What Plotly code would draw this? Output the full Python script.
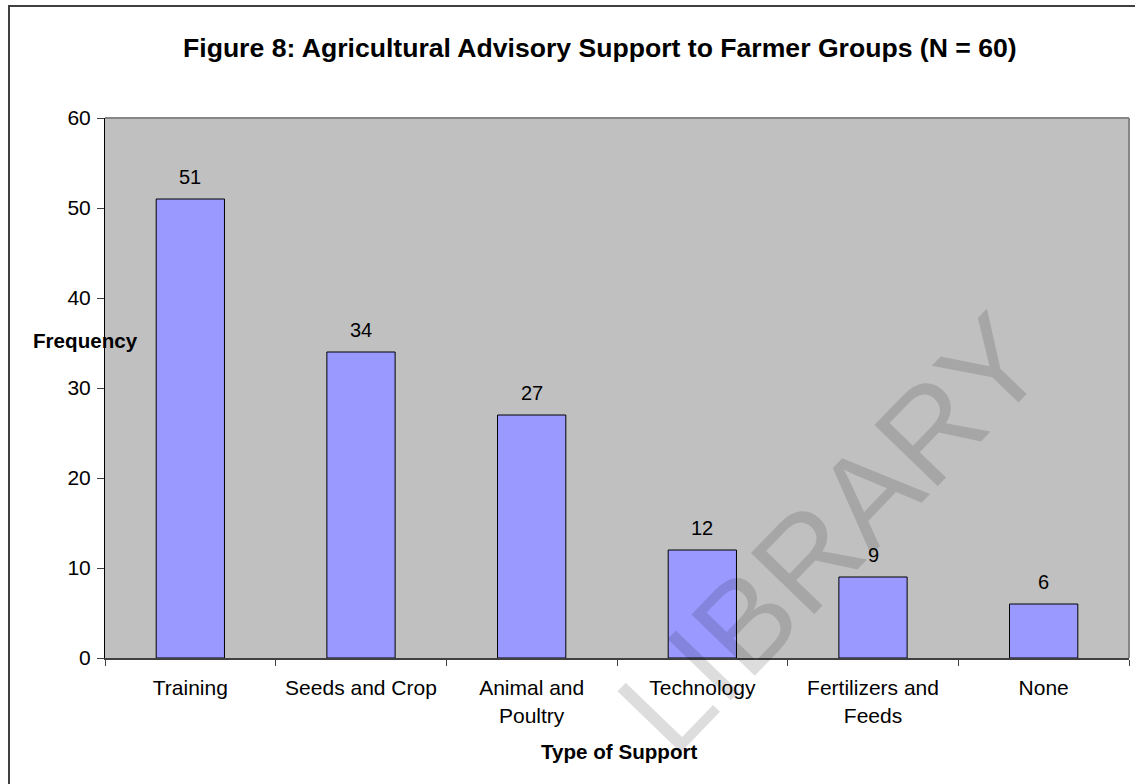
import plotly.graph_objects as go

# Agricultural advisory support received by farmer groups
categories = ["Training", "Seeds and Crop", "Animal and<br>Poultry",
              "Technology", "Fertilizers and<br>Feeds", "None"]
frequency = [51, 34, 27, 12, 9, 6]
y_ticks = [0, 10, 20, 30, 40, 50, 60]

W, H = 1135, 784
PL, PR, PT, PB = 105, 1129, 118, 658  # plot area in pixels

def px_x(x):
    return (x - PL) / (PR - PL)

def px_y(y):
    return (PB - y) / (PB - PT)

FONT = "Liberation Sans, Arial, sans-serif"

fig = go.Figure()
fig.add_trace(go.Bar(
    x=categories, y=frequency, width=0.4,
    marker=dict(color="#9999FF", line=dict(color="#000000", width=1)),
    hoverinfo="x+y", showlegend=False,
))

annotations = []
# value labels above bars
for c, v in zip(categories, frequency):
    annotations.append(dict(
        x=c, y=v, xref="x", yref="y", text=str(v), showarrow=False,
        yanchor="bottom", yshift=9, font=dict(family=FONT, size=20, color="#000"),
    ))

annotations += [
    dict(text="<b>Figure 8: Agricultural Advisory Support to Farmer Groups (N = 60)</b>",
         x=px_x(600), y=px_y(48), xref="paper", yref="paper", showarrow=False,
         xanchor="center", yanchor="middle",
         font=dict(family=FONT, size=26.6, color="#000")),
    dict(text="<b>Frequency</b>", x=px_x(85), y=px_y(340), xref="paper", yref="paper",
         showarrow=False, xanchor="center", yanchor="middle",
         font=dict(family=FONT, size=20.6, color="#000")),
    dict(text="<b>Type of Support</b>", x=px_x(619), y=px_y(751), xref="paper", yref="paper",
         showarrow=False, xanchor="center", yanchor="middle",
         font=dict(family=FONT, size=20.6, color="#000")),
    dict(text="LIBRARY", x=px_x(830), y=px_y(533), xref="paper", yref="paper",
         showarrow=False, xanchor="center", yanchor="middle", textangle=-46,
         font=dict(family=FONT, size=128, color="rgba(0,0,0,0.135)")),
]

shapes = [
    # plot-area frame on top and right
    dict(type="line", xref="paper", yref="paper", x0=0, x1=1, y0=1, y1=1,
         line=dict(color="#868686", width=2)),
    dict(type="line", xref="paper", yref="paper", x0=1, x1=1, y0=0, y1=1,
         line=dict(color="#868686", width=2)),
    # outer chart border
    dict(type="rect", xref="paper", yref="paper",
         x0=px_x(9), x1=px_x(1145), y0=px_y(795), y1=px_y(6),
         line=dict(color="#404040", width=2), fillcolor="rgba(0,0,0,0)", layer="above"),
]

fig.update_layout(
    width=W, height=H,
    margin=dict(l=PL, r=W - PR, t=PT, b=H - PB),
    paper_bgcolor="#FFFFFF", plot_bgcolor="#C0C0C0",
    font=dict(family=FONT, size=21, color="#000"),
    bargap=0.6,
    annotations=annotations, shapes=shapes,
    xaxis=dict(
        type="category", showline=True, linecolor="#404040", linewidth=2,
        ticks="outside", ticklen=6, tickcolor="#404040", tickwidth=1,
        tickson="boundaries", showgrid=False, zeroline=False,
        ticklabelstandoff=10,
        tickfont=dict(family=FONT, size=21, color="#000"),
    ),
    yaxis=dict(
        range=[0, 60], tickvals=y_ticks, showline=True, linecolor="#000000", linewidth=1,
        ticks="outside", ticklen=7, tickcolor="#404040", tickwidth=1,
        showgrid=False, zeroline=False, ticklabelstandoff=2,
        tickfont=dict(family=FONT, size=21, color="#000"),
    ),
)

fig.write_html("out.html")
